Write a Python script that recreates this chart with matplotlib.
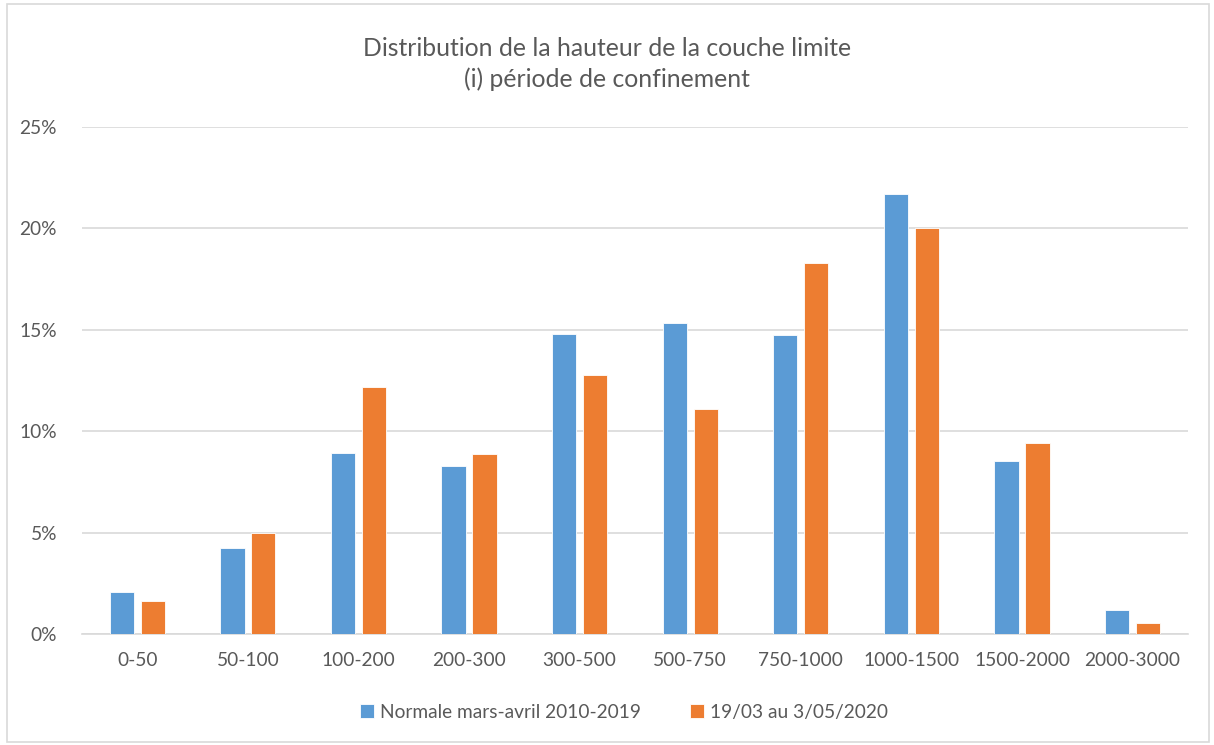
import numpy as np
import matplotlib.pyplot as plt
from matplotlib.patches import Rectangle
from matplotlib.ticker import FuncFormatter

# classes de hauteur (m)
categories = ['0-50', '50-100', '100-200', '200-300', '300-500', '500-750',
              '750-1000', '1000-1500', '1500-2000', '2000-3000']
# fréquences en %
normale = [2.06, 4.26, 8.94, 8.26, 14.81, 15.32, 14.75, 21.69, 8.54, 1.20]
confinement = [1.64, 5.00, 12.20, 8.89, 12.75, 11.11, 18.31, 20.00, 9.42, 0.53]
series_labels = ['Normale mars-avril 2010-2019', '19/03 au 3/05/2020']
yticks = [0, 5, 10, 15, 20, 25]

plt.rcParams['font.family'] = ['Lato', 'DejaVu Sans']
txt = '#595959'
grid_col = '#D9D9D9'

fig = plt.figure(figsize=(12.14, 7.45), dpi=100)
ax = fig.add_axes([0.0675, 0.149, 0.911, 0.6805])

x = np.arange(len(categories))
w = 0.22
ax.bar(x - 0.14, normale, w, color='#5B9BD5', edgecolor='white', linewidth=0.6,
       label=series_labels[0], zorder=3)
ax.bar(x + 0.14, confinement, w, color='#ED7D31', edgecolor='white', linewidth=0.6,
       label=series_labels[1], zorder=3)

ax.set_xlim(-0.5, len(categories) - 0.5)
ax.set_ylim(0, 25)
ax.set_yticks(yticks)
ax.yaxis.set_major_formatter(FuncFormatter(lambda v, p: f'{v:.0f}%'))
ax.set_xticks(x)
ax.set_xticklabels(categories)
ax.tick_params(length=0, labelsize=13.8, colors=txt)
ax.tick_params(axis='x', pad=13)
ax.tick_params(axis='y', pad=18)
ax.grid(axis='y', color=grid_col, linewidth=1.2, zorder=0)
for s in ['top', 'right', 'left']:
    ax.spines[s].set_visible(False)
ax.spines['bottom'].set_color(grid_col)
ax.spines['bottom'].set_linewidth(1.2)

fig.text(0.5, 0.914, 'Distribution de la hauteur de la couche limite\n(i) période de confinement',
         ha='center', va='center', fontsize=17.8, color=txt, linespacing=1.35)

leg = fig.legend(loc='center', bbox_to_anchor=(0.514, 0.044), ncol=2, frameon=False,
                 fontsize=13.8, handlelength=0.7, handleheight=0.7, handletextpad=0.3,
                 columnspacing=2.6)
for t in leg.get_texts():
    t.set_color(txt)

# cadre du graphique
fig.patches.append(Rectangle((0.006, 0.004), 0.99, 0.99, transform=fig.transFigure,
                             fill=False, edgecolor=grid_col, linewidth=1.2))

fig.savefig('out.png', dpi=100)
